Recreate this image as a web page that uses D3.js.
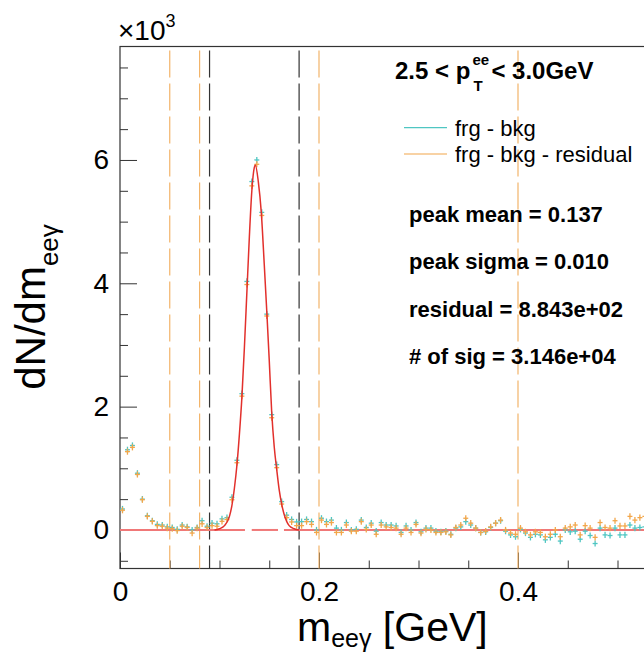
<!DOCTYPE html>
<html>
<head>
<meta charset="utf-8">
<script src="https://cdn.jsdelivr.net/npm/d3@7"></script>
<style>
    body { margin: 0; background: #fff; }
    svg { display: block; }
    text { font-family: "Liberation Sans", Arial, sans-serif; fill: #000; }
</style>
</head>
<body>
<svg id="viz" width="644" height="654"></svg>
<script>
// histogram binning (GeV)
const binWidth = 0.005;
const nBins = 106;

// frg - bkg  (x10^3)
const frgBkg = [
    0.34, 1.30, 1.37, 0.92, 0.50, 0.23, 0.15, 0.09, 0.08, 0.05,
    0.04, 0.01, 0.08, 0.05, 0.00, 0.04, 0.15, 0.06, 0.11, 0.10,
    0.18, 0.20, 0.53, 1.13, 2.21, 4.03, 5.65, 6.00, 5.15, 3.50,
    1.87, 1.06, 0.46, 0.24, 0.17, 0.13, 0.135, 0.17, 0.135, 0.00,
    0.19, 0.135, 0.16, 0.03, 0.00, 0.12, 0.00, 0.01, 0.16, 0.04,
    0.11, -0.02, 0.12, 0.08, 0.08, 0.065, -0.04, 0.065, 0.00, 0.12,
    -0.03, 0.03, 0.03, -0.02, -0.03, -0.02, -0.07, 0.03, 0.05, 0.135,
    0.08, 0.03, -0.04, -0.03, 0.04, 0.11, 0.15, -0.02, -0.08, -0.11,
    0.01, -0.05, -0.12, -0.07, -0.08, -0.16, -0.12, -0.07, -0.18, 0.00,
    -0.03, -0.02, -0.15, -0.02, -0.09, -0.22, 0.03, -0.08, -0.09, 0.03,
    -0.08, -0.08, 0.08, 0.03, 0.04, 0.05
];

// frg - bkg - residual  (x10^3)
const frgBkgRes = [
    0.32, 1.27, 1.34, 0.90, 0.49, 0.22, 0.14, 0.07, 0.06, 0.03,
    0.02, -0.01, 0.06, 0.04, -0.05, 0.03, 0.10, 0.04, 0.07, 0.06,
    0.14, 0.17, 0.49, 1.09, 2.17, 3.98, 5.58, 5.93, 5.10, 3.47,
    1.82, 1.01, 0.42, 0.20, 0.13, 0.07, 0.07, 0.135, 0.09, -0.04,
    0.16, 0.09, 0.12, -0.04, -0.04, 0.08, -0.02, -0.02, 0.135, 0.01,
    0.08, -0.07, 0.08, 0.05, 0.04, 0.03, -0.07, 0.03, -0.04, 0.09,
    -0.05, 0.01, 0.00, -0.04, -0.04, -0.03, -0.08, 0.04, 0.08, 0.19,
    0.11, 0.03, -0.04, -0.02, 0.05, 0.11, 0.16, 0.00, -0.05, -0.07,
    0.03, -0.03, -0.08, -0.03, -0.04, -0.11, -0.07, 0.00, -0.11, 0.03,
    0.05, 0.08, -0.08, 0.07, 0.03, -0.12, 0.12, 0.04, 0.03, 0.15,
    0.065, 0.065, 0.22, 0.16, 0.20, 0.22
];
const errY = 0.05;

// fitted peak
const fitX = [0.095, 0.100, 0.105, 0.110, 0.1125, 0.115, 0.1175, 0.120, 0.1225, 0.125,
              0.1275, 0.130, 0.1325, 0.135, 0.136, 0.139, 0.142, 0.145, 0.1475, 0.150,
              0.1525, 0.155, 0.1575, 0.160, 0.1625, 0.165, 0.1675, 0.170, 0.175, 0.180];
const fitY = [0.00, 0.02, 0.07, 0.22, 0.40, 0.68, 1.05, 1.55, 2.15, 2.95,
              3.85, 4.75, 5.50, 5.88, 5.92, 5.65, 5.15, 4.30, 3.55, 2.75,
              1.90, 1.35, 0.98, 0.65, 0.42, 0.25, 0.14, 0.07, 0.02, 0.00];

// zero line pieces
const zeroSegs = [[0, 0.1256], [0.1324, 0.1588], [0.1648, 0.6]];

// window lines
const orangeCuts = [0.05, 0.08, 0.2, 0.4];
const blackCuts = [0.09, 0.18];

const yMajor = [0, 2, 4, 6];
const xMajor = [0, 0.2, 0.4];

const statLines = ["peak mean = 0.137", "peak sigma = 0.010", "residual = 8.843e+02", "# of sig = 3.146e+04"];
const legendItems = [
    {label: "frg - bkg", color: "#4fc6c2"},
    {label: "frg - bkg - residual", color: "#f2a64a"}
];

const svg = d3.select("#viz");
const frame = {left: 120, right: 717, top: 46.5, bottom: 568.5};

const x = d3.scaleLinear().domain([0, 0.6]).range([frame.left, frame.right]);
const y = d3.scaleLinear().domain([-0.625, 7.84]).range([frame.bottom, frame.top]);

const cyan = "#4fc6c2";
const orange = "#f2a64a";

// frame
svg.append("rect")
    .attr("x", frame.left).attr("y", frame.top)
    .attr("width", frame.right - frame.left).attr("height", frame.bottom - frame.top)
    .attr("fill", "none").attr("stroke", "#333").attr("stroke-width", 1.2);

// y axis
let yMinor = d3.range(-0.5, 7.6, 0.5).filter(v => yMajor.indexOf(v) < 0);
svg.append("g").attr("transform", `translate(${frame.left},0)`)
    .call(d3.axisLeft(y).tickValues(yMinor).tickSize(-8).tickFormat(""))
    .call(g => g.select(".domain").remove())
    .selectAll("line").attr("stroke", "#333");
let yAx = svg.append("g").attr("transform", `translate(${frame.left},0)`)
    .call(d3.axisLeft(y).tickValues(yMajor).tickSize(-17).tickPadding(11).tickFormat(d3.format("d")));
yAx.select(".domain").remove();
yAx.selectAll("line").attr("stroke", "#333");
yAx.selectAll("text").attr("font-size", 28).attr("font-family", "Liberation Sans, Arial, sans-serif").attr("fill", "#000");

// x axis
let xMinor = d3.range(0.05, 0.6, 0.05).filter(v => !xMajor.some(m => Math.abs(m - v) < 1e-6));
svg.append("g").attr("transform", `translate(0,${frame.bottom})`)
    .call(d3.axisBottom(x).tickValues(xMinor).tickSize(-8).tickFormat(""))
    .call(g => g.select(".domain").remove())
    .selectAll("line").attr("stroke", "#333");
let xAx = svg.append("g").attr("transform", `translate(0,${frame.bottom})`)
    .call(d3.axisBottom(x).tickValues(xMajor).tickSize(-16).tickPadding(13).tickFormat(d => d === 0 ? "0" : d3.format(".1f")(d)));
xAx.select(".domain").remove();
xAx.selectAll("line").attr("stroke", "#333");
xAx.selectAll("text").attr("font-size", 28).attr("font-family", "Liberation Sans, Arial, sans-serif").attr("fill", "#000");

// vertical cut lines
svg.append("g").selectAll("line").data(orangeCuts).join("line")
    .attr("x1", d => x(d)).attr("x2", d => x(d))
    .attr("y1", frame.top).attr("y2", frame.bottom)
    .attr("stroke", "#f2b46a").attr("stroke-width", 1.2)
    .attr("stroke-dasharray", "27,6").attr("stroke-dashoffset", 29);
svg.append("g").selectAll("line").data(blackCuts).join("line")
    .attr("x1", d => x(d)).attr("x2", d => x(d))
    .attr("y1", frame.top).attr("y2", frame.bottom)
    .attr("stroke", "#333").attr("stroke-width", 1.2)
    .attr("stroke-dasharray", "27,6").attr("stroke-dashoffset", 29);

// zero line
svg.append("g").selectAll("line").data(zeroSegs).join("line")
    .attr("x1", d => x(d[0])).attr("x2", d => x(d[1]))
    .attr("y1", y(0)).attr("y2", y(0))
    .attr("stroke", "#f07878").attr("stroke-width", 2);

// data crosses
function drawSeries(vals, color) {
    let pts = vals.map((v, i) => ({c: binWidth * (i + 0.5), v: v}));
    let g = svg.append("g").attr("stroke", color).attr("stroke-width", 1.3);
    g.selectAll(".h").data(pts).join("line")
        .attr("x1", d => x(d.c - binWidth / 2)).attr("x2", d => x(d.c + binWidth / 2))
        .attr("y1", d => y(d.v)).attr("y2", d => y(d.v));
    g.selectAll(".v").data(pts).join("line")
        .attr("x1", d => x(d.c)).attr("x2", d => x(d.c))
        .attr("y1", d => y(d.v - errY)).attr("y2", d => y(d.v + errY));
}
drawSeries(frgBkg.slice(0, nBins), cyan);
drawSeries(frgBkgRes.slice(0, nBins), orange);

// fit curve
let fitPts = fitX.map((v, i) => [v, fitY[i]]);
svg.append("path")
    .attr("d", d3.line().x(d => x(d[0])).y(d => y(d[1])).curve(d3.curveMonotoneX)(fitPts))
    .attr("fill", "none").attr("stroke", "#e2302c").attr("stroke-width", 1.5);

// x10^3
let mult = svg.append("text").attr("x", 118).attr("y", 40).attr("font-size", 28);
mult.append("tspan").text("×10");
mult.append("tspan").attr("dy", -13).attr("font-size", 18).text("3");

// y title
let yt = svg.append("text")
    .attr("transform", "translate(45,307) rotate(-90)")
    .attr("text-anchor", "middle").attr("font-size", 42);
yt.append("tspan").text("dN/dm");
yt.append("tspan").attr("dy", 13).attr("font-size", 26).text("eeγ");

// x title
let xt = svg.append("text").attr("x", 297).attr("y", 641).attr("font-size", 41);
xt.append("tspan").text("m");
xt.append("tspan").attr("dy", 6).attr("font-size", 25).text("eeγ");
xt.append("tspan").attr("dy", -6).text(" [GeV]");

// pT range label
let t1 = svg.append("text").attr("x", 395).attr("y", 79).attr("font-size", 24).attr("font-weight", "bold").text("2.5 < p");
let w1 = t1.node().getComputedTextLength();
svg.append("text").attr("x", 395 + w1 + 2).attr("y", 65).attr("font-size", 15).attr("font-weight", "bold").text("ee");
svg.append("text").attr("x", 395 + w1 + 3).attr("y", 91).attr("font-size", 15).attr("font-weight", "bold").text("T");
svg.append("text").attr("x", 395 + w1 + 21).attr("y", 79).attr("font-size", 24).attr("font-weight", "bold").text("< 3.0GeV");

// legend
let leg = svg.append("g");
legendItems.forEach((d, i) => {
    let ly = 127.7 + i * 26.3;
    leg.append("line").attr("x1", 404).attr("x2", 447).attr("y1", ly).attr("y2", ly)
        .attr("stroke", d.color).attr("stroke-width", 1.2);
    leg.append("text").attr("x", 455).attr("y", ly + 7.8).attr("font-size", 22).text(d.label);
});

// fit results
svg.append("g").selectAll("text").data(statLines).join("text")
    .attr("x", 409).attr("y", (d, i) => 222 + i * 47.3)
    .attr("font-size", 22).attr("font-weight", "bold")
    .text(d => d);
</script>
</body>
</html>
